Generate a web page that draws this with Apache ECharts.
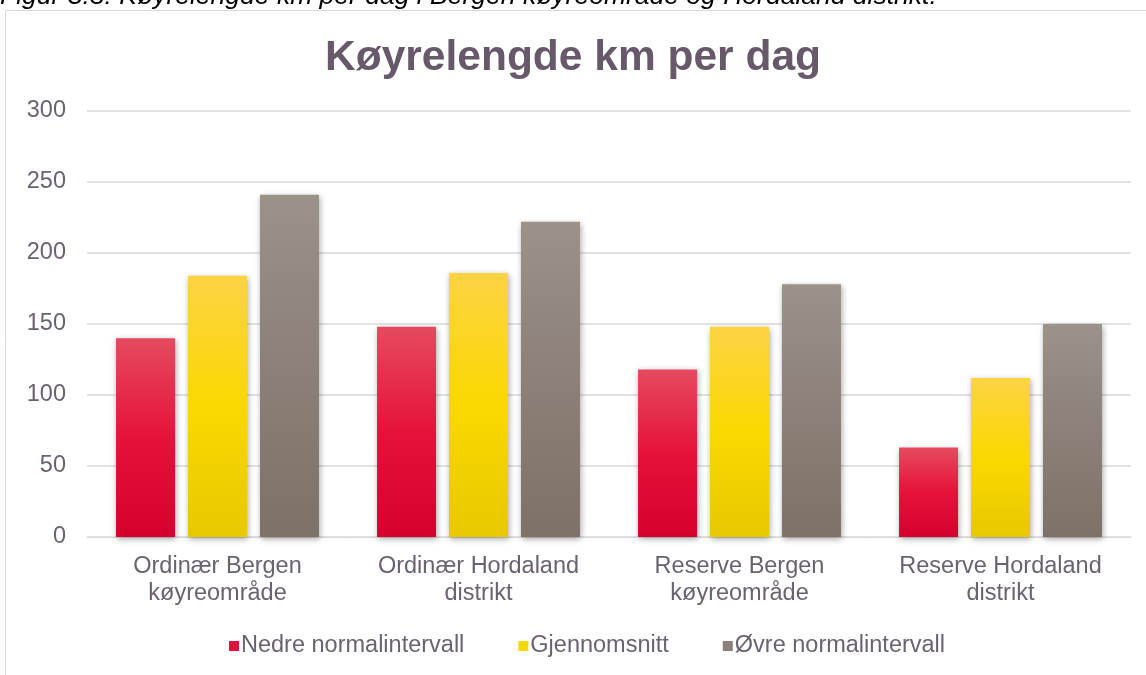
<!DOCTYPE html>
<html><head><meta charset="utf-8">
<script src="https://cdn.jsdelivr.net/npm/echarts@6/dist/echarts.min.js"></script>
<style>html,body{margin:0;padding:0;background:#fff}#c{width:1146px;height:675px}</style>
</head><body><div id="c"></div>
<script>
const categories = ['Ordinær Bergen\nkøyreområde', 'Ordinær Hordaland\ndistrikt', 'Reserve Bergen\nkøyreområde', 'Reserve Hordaland\ndistrikt'];
const nedre = [140, 148, 118, 63];
const snitt = [184, 186, 148, 112];
const ovre = [241, 222, 178, 150];
const seriesNames = ['Nedre normalintervall', 'Gjennomsnitt', 'Øvre normalintervall'];
const yTicks = {min: 0, max: 300, interval: 50};

const txt = '#6b6270';
function grad(top, mid, bot) {
  return new echarts.graphic.LinearGradient(0, 0, 0, 1, [
    {offset: 0, color: top}, {offset: 0.5, color: mid}, {offset: 1, color: bot}
  ]);
}
const colors = [
  grad('#e64a5e', '#e6123a', '#d6002e'),
  grad('#fdd344', '#fbd800', '#e8c800'),
  grad('#9b9289', '#8c8078', '#7d7168')
];
const legendColors = ['#e2103a', '#fbd800', '#8c8078'];

const chart = echarts.init(document.getElementById('c'));
const mk = (name, data, i) => ({
  name, type: 'bar', data,
  barWidth: '22.6%', barGap: '22%',
  itemStyle: {color: colors[i], shadowColor: 'rgba(0,0,0,0.35)', shadowBlur: 6, shadowOffsetX: 1, shadowOffsetY: 2}
});
chart.setOption({
  animation: false,
  color: legendColors,
  title: {text: 'Køyrelengde km per dag', left: 'center', top: 32,
    textStyle: {fontFamily: 'Liberation Sans', fontSize: 42.5, fontWeight: 'bold', color: '#67596a'}},
  graphic: [
    {type: 'rect', shape: {x: 5.5, y: 10.5, width: 1160, height: 700}, style: {fill: 'none', stroke: '#d9d9d9', lineWidth: 1}, silent: true},
    {type: 'text', x: 0, y: -3, style: {text: 'Figur 3.3: Køyrelengde km per dag i Bergen køyreområde og Hordaland distrikt.', font: 'italic 26.5px "Liberation Sans"', fill: '#000', verticalAlign: 'middle'}}
  ],
  legend: {
    bottom: 12, left: 224, itemWidth: 10, itemHeight: 10, itemGap: 54,
    icon: 'rect',
    textStyle: {fontFamily: 'Liberation Sans', fontSize: 23.5, color: txt, padding: [0, 0, 0, -3]},
    data: seriesNames.map((n, i) => ({name: n, itemStyle: {color: legendColors[i]}}))
  },
  grid: {left: 87, right: 15, top: 111, bottom: 138},
  xAxis: {
    type: 'category', data: categories,
    axisLine: {lineStyle: {color: '#d9d9d9', width: 1}},
    axisTick: {show: false},
    axisLabel: {interval: 0, fontFamily: 'Liberation Sans', fontSize: 23.5, color: txt, lineHeight: 27, margin: 16}
  },
  yAxis: {
    type: 'value', min: yTicks.min, max: yTicks.max, interval: yTicks.interval,
    axisLine: {show: false}, axisTick: {show: false},
    splitLine: {lineStyle: {color: '#d9d9d9', width: 1.5}},
    axisLabel: {fontFamily: 'Liberation Sans', fontSize: 23.5, color: txt, margin: 21}
  },
  series: [mk(seriesNames[0], nedre, 0), mk(seriesNames[1], snitt, 1), mk(seriesNames[2], ovre, 2)]
});
</script></body></html>
